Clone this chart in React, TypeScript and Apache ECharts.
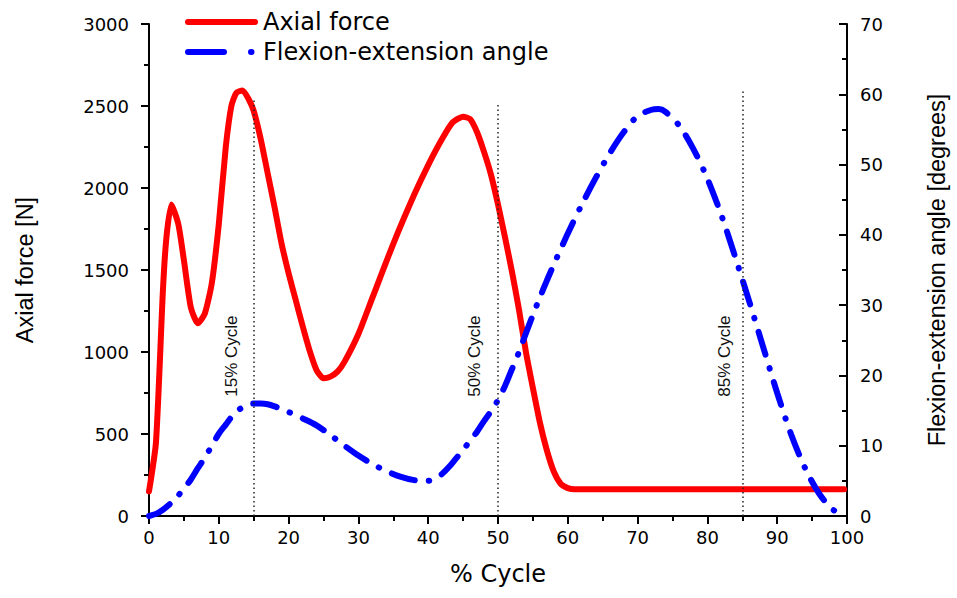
import React, { useEffect, useRef } from "react";
import * as echarts from "echarts";

const forceData: [number, number][] = [
  [0, 150], [1, 450], [2, 1380], [2.5, 1700], [3.2, 1900], [4.2, 1780], [5, 1560], [6, 1270],
  [7, 1175], [8, 1235], [9, 1420], [10, 1780], [11, 2250], [11.8, 2500], [12.5, 2580],
  [13.4, 2595], [14.3, 2540], [15, 2470], [16, 2300], [17, 2090], [18, 1880], [19, 1660],
  [20, 1480], [21, 1320], [22, 1160], [23, 1010], [24, 890], [25, 840], [26, 850], [27, 880],
  [28, 940], [30, 1110], [32, 1330], [35, 1660], [38, 1960], [40, 2140], [42, 2300],
  [43.5, 2400], [45, 2435], [46, 2420], [47, 2340], [48, 2220], [49, 2080], [50, 1900],
  [51, 1700], [52, 1490], [53, 1260], [54, 1000], [55, 780], [56, 570], [57, 400], [58, 270],
  [59, 195], [60, 170], [61, 163], [99.6, 163],
];

const angleData: [number, number][] = [
  [0, 0], [1, 0.3], [2, 0.9], [3, 1.7], [4, 2.7], [5, 3.9], [6, 5.2], [7, 6.8], [8, 8.3],
  [9, 10], [10, 11.7], [11, 13], [12, 14.3], [13, 15.2], [14, 15.8], [15, 16], [16, 16],
  [17, 15.9], [18, 15.6], [19, 15.2], [20, 14.8], [22, 13.9], [24, 12.9], [26, 11.5],
  [28, 10], [30, 8.6], [32, 7.4], [34, 6.4], [36, 5.6], [38, 5.1], [40, 5], [41, 5.3],
  [42, 6], [43, 7], [44, 8.2], [45, 9.4], [46, 10.7], [47, 12], [48, 13.5], [49, 14.9],
  [50, 16.5], [51, 18.5], [52, 20.9], [53, 23.3], [54, 26], [55, 28.6], [56, 31.1],
  [57, 33.5], [58, 35.8], [59, 38], [60, 40.2], [62, 44.3], [64, 48.1], [66, 51.6],
  [68, 54.6], [70, 56.9], [72, 57.8], [73, 57.9], [74, 57.5], [76, 55.5], [78, 52.2],
  [80, 48], [82, 42.8], [84, 36.8], [86, 30.5], [88, 24], [90, 17.5], [92, 11.6],
  [94, 6.8], [96, 3.2], [98, 0.9], [100, 0],
];

const cycleMarks = [15, 50, 85];
const cycleMarkTops = [2550, 2520, 2600];
const cycleLabels: [number, number, string][] = [
  [11.8, 975, "15% Cycle"],
  [46.7, 975, "50% Cycle"],
  [82.5, 975, "85% Cycle"],
];

const seriesNames = ["Axial force", "Flexion-extension angle"];

const H_FONT = "DejaVu Sans";
const V_FONT = "Liberation Sans";

export default function App() {
  const ref = useRef<HTMLDivElement>(null);
  useEffect(() => {
    if (!ref.current) return;
    const chart = echarts.init(ref.current, null, { renderer: "svg" });
    const axisCommon = {
      axisLine: { show: true, lineStyle: { color: "#000", width: 2 } },
      splitLine: { show: false },
    };
    const plain = (v: number) => String(v);
    chart.setOption({
      animation: false,
      backgroundColor: "#fff",
      grid: { left: 149, right: 108, top: 24, bottom: 82, containLabel: false },
      legend: {
        orient: "vertical",
        left: 180,
        top: 2,
        itemWidth: 67,
        itemHeight: 14,
        itemGap: 0,
        textStyle: { fontFamily: H_FONT, fontSize: 24, color: "#000", lineHeight: 30, padding: [0, 0, 0, 3] },
        data: [
          {
            name: seriesNames[0],
            itemStyle: { opacity: 0 },
            lineStyle: { width: 6, cap: "round", type: "solid" },
          },
          {
            name: seriesNames[1],
            itemStyle: { opacity: 0 },
            lineStyle: { width: 6, cap: "round", type: [36, 27, 0.5, 40] },
          },
        ],
      },
      xAxis: {
        type: "value",
        min: 0,
        max: 100,
        interval: 10,
        name: "% Cycle",
        nameLocation: "middle",
        nameGap: 46,
        nameTextStyle: { fontFamily: H_FONT, fontSize: 24, color: "#000" },
        ...axisCommon,
        axisTick: { show: true, length: 8, lineStyle: { color: "#000", width: 2 } },
        minorTick: { show: true, splitNumber: 2, length: 5, lineStyle: { color: "#000", width: 2 } },
        axisLabel: { fontFamily: H_FONT, fontSize: 18, color: "#000", margin: 12, formatter: plain },
      },
      yAxis: [
        {
          type: "value",
          min: 0,
          max: 3000,
          interval: 500,
          position: "left",
          name: "Axial force [N]",
          nameLocation: "middle",
          nameGap: 112,
          nameTextStyle: { fontFamily: V_FONT, fontSize: 23.5, color: "#000" },
          ...axisCommon,
          axisTick: { show: true, length: 8, lineStyle: { color: "#000", width: 2 } },
          minorTick: { show: true, splitNumber: 2, length: 5, lineStyle: { color: "#000", width: 2 } },
          axisLabel: { fontFamily: H_FONT, fontSize: 18, color: "#000", margin: 20, formatter: plain },
        },
        {
          type: "value",
          min: 0,
          max: 70,
          interval: 10,
          position: "right",
          name: "Flexion-extension angle [degrees]",
          nameLocation: "middle",
          nameGap: 78,
          nameRotate: 90,
          nameTextStyle: { fontFamily: V_FONT, fontSize: 23.5, color: "#000" },
          ...axisCommon,
          axisTick: { show: true, inside: true, length: 8, lineStyle: { color: "#000", width: 2 } },
          minorTick: { show: true, splitNumber: 2, length: 5, lineStyle: { color: "#000", width: 2 } },
          axisLabel: { fontFamily: H_FONT, fontSize: 18, color: "#000", margin: 13, formatter: plain },
        },
      ],
      series: [
        {
          name: seriesNames[0],
          type: "line",
          yAxisIndex: 0,
          data: forceData,
          smooth: 0.2,
          symbol: "none",
          z: 3,
          lineStyle: { color: "#ff0000", width: 6, cap: "round", join: "round" },
          itemStyle: { color: "#ff0000" },
          markLine: {
            silent: true,
            symbol: "none",
            label: { show: false },
            lineStyle: { color: "#222", width: 1.5, type: [1.5, 3] },
            data: cycleMarks.map((m, i) => [
              { coord: [m, 0] },
              { coord: [m, cycleMarkTops[i]] },
            ]),
          },
        },
        {
          name: seriesNames[1],
          type: "line",
          yAxisIndex: 1,
          data: angleData,
          smooth: 0.3,
          symbol: "none",
          z: 4,
          lineStyle: { color: "#0000ff", width: 6, cap: "round", type: [24, 14, 0.5, 14] },
          itemStyle: { color: "#0000ff" },
        },
        {
          name: "labels",
          type: "custom",
          yAxisIndex: 0,
          silent: true,
          data: cycleLabels,
          renderItem: (params: any, api: any) => {
            const pt = api.coord([api.value(0), api.value(1)]);
            const item = cycleLabels[params.dataIndex];
            return {
              type: "text",
              x: pt[0],
              y: pt[1],
              rotation: Math.PI / 2,
              style: {
                text: item[2],
                fontFamily: V_FONT,
                fontSize: 17,
                fill: "#111",
                align: "center",
                verticalAlign: "middle",
              },
            };
          },
        },
      ],
    });
    return () => chart.dispose();
  }, []);
  return (
    <div
      ref={ref}
      style={{ position: "fixed", left: 0, top: 0, width: 957, height: 598, background: "#fff" }}
    />
  );
}
